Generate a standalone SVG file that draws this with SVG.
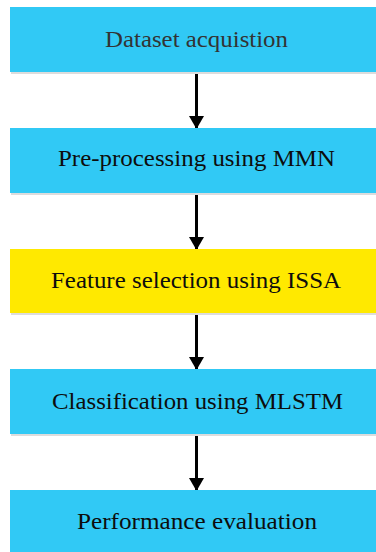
<svg xmlns="http://www.w3.org/2000/svg" width="376" height="552" viewBox="0 0 376 552">
  <defs>
    <style>
      .box { stroke: none; }
      .blue { fill: #31c9f5; }
      .yellow { fill: #ffe900; }
      .shadow { fill: #dcdcdc; }
      .label { font-family: "Liberation Serif", "Times New Roman", Times, serif; font-size: 23px; fill: #0d0d0d; }
      .label.soft { fill: #333333; }
      .link { stroke: #000000; stroke-width: 3; fill: none; marker-end: url(#head); }
    </style>
    <marker id="head" markerUnits="userSpaceOnUse" viewBox="0 0 13 15" refX="12" refY="7.5" markerWidth="13" markerHeight="15" orient="auto">
      <path d="M0,0 L13,7.5 L0,15 z" fill="#000000"/>
    </marker>
  </defs>
  <rect width="376" height="552" fill="#ffffff"/>

  <g id="connectors">
    <line class="link" x1="196.5" y1="72" x2="196.5" y2="128"/>
    <line class="link" x1="196.5" y1="193" x2="196.5" y2="249"/>
    <line class="link" x1="196.5" y1="313" x2="196.5" y2="369"/>
    <line class="link" x1="196.5" y1="434" x2="196.5" y2="490"/>
  </g>

  <g id="dataset">
    <rect class="shadow" x="11" y="9" width="366" height="65"/>
    <rect class="box blue" x="10" y="7" width="366" height="65"/>
    <text class="label soft" x="105" y="47" textLength="183" lengthAdjust="spacingAndGlyphs">Dataset acquistion</text>
  </g>

  <g id="preprocessing">
    <rect class="shadow" x="11" y="130" width="366" height="65"/>
    <rect class="box blue" x="10" y="128" width="366" height="65"/>
    <text class="label" x="58" y="166" textLength="277" lengthAdjust="spacingAndGlyphs">Pre-processing using MMN</text>
  </g>

  <g id="feature-selection">
    <rect class="shadow" x="11" y="251" width="366" height="64"/>
    <rect class="box yellow" x="10" y="249" width="366" height="64"/>
    <text class="label" x="51" y="288" textLength="290" lengthAdjust="spacingAndGlyphs">Feature selection using ISSA</text>
  </g>

  <g id="classification">
    <rect class="shadow" x="11" y="371" width="366" height="65"/>
    <rect class="box blue" x="10" y="369" width="366" height="65"/>
    <text class="label" x="52" y="409" textLength="291" lengthAdjust="spacingAndGlyphs">Classification using MLSTM</text>
  </g>

  <g id="evaluation">
    <rect class="box blue" x="10" y="490" width="366" height="65"/>
    <text class="label" x="77" y="529" textLength="240" lengthAdjust="spacingAndGlyphs">Performance evaluation</text>
  </g>
</svg>
